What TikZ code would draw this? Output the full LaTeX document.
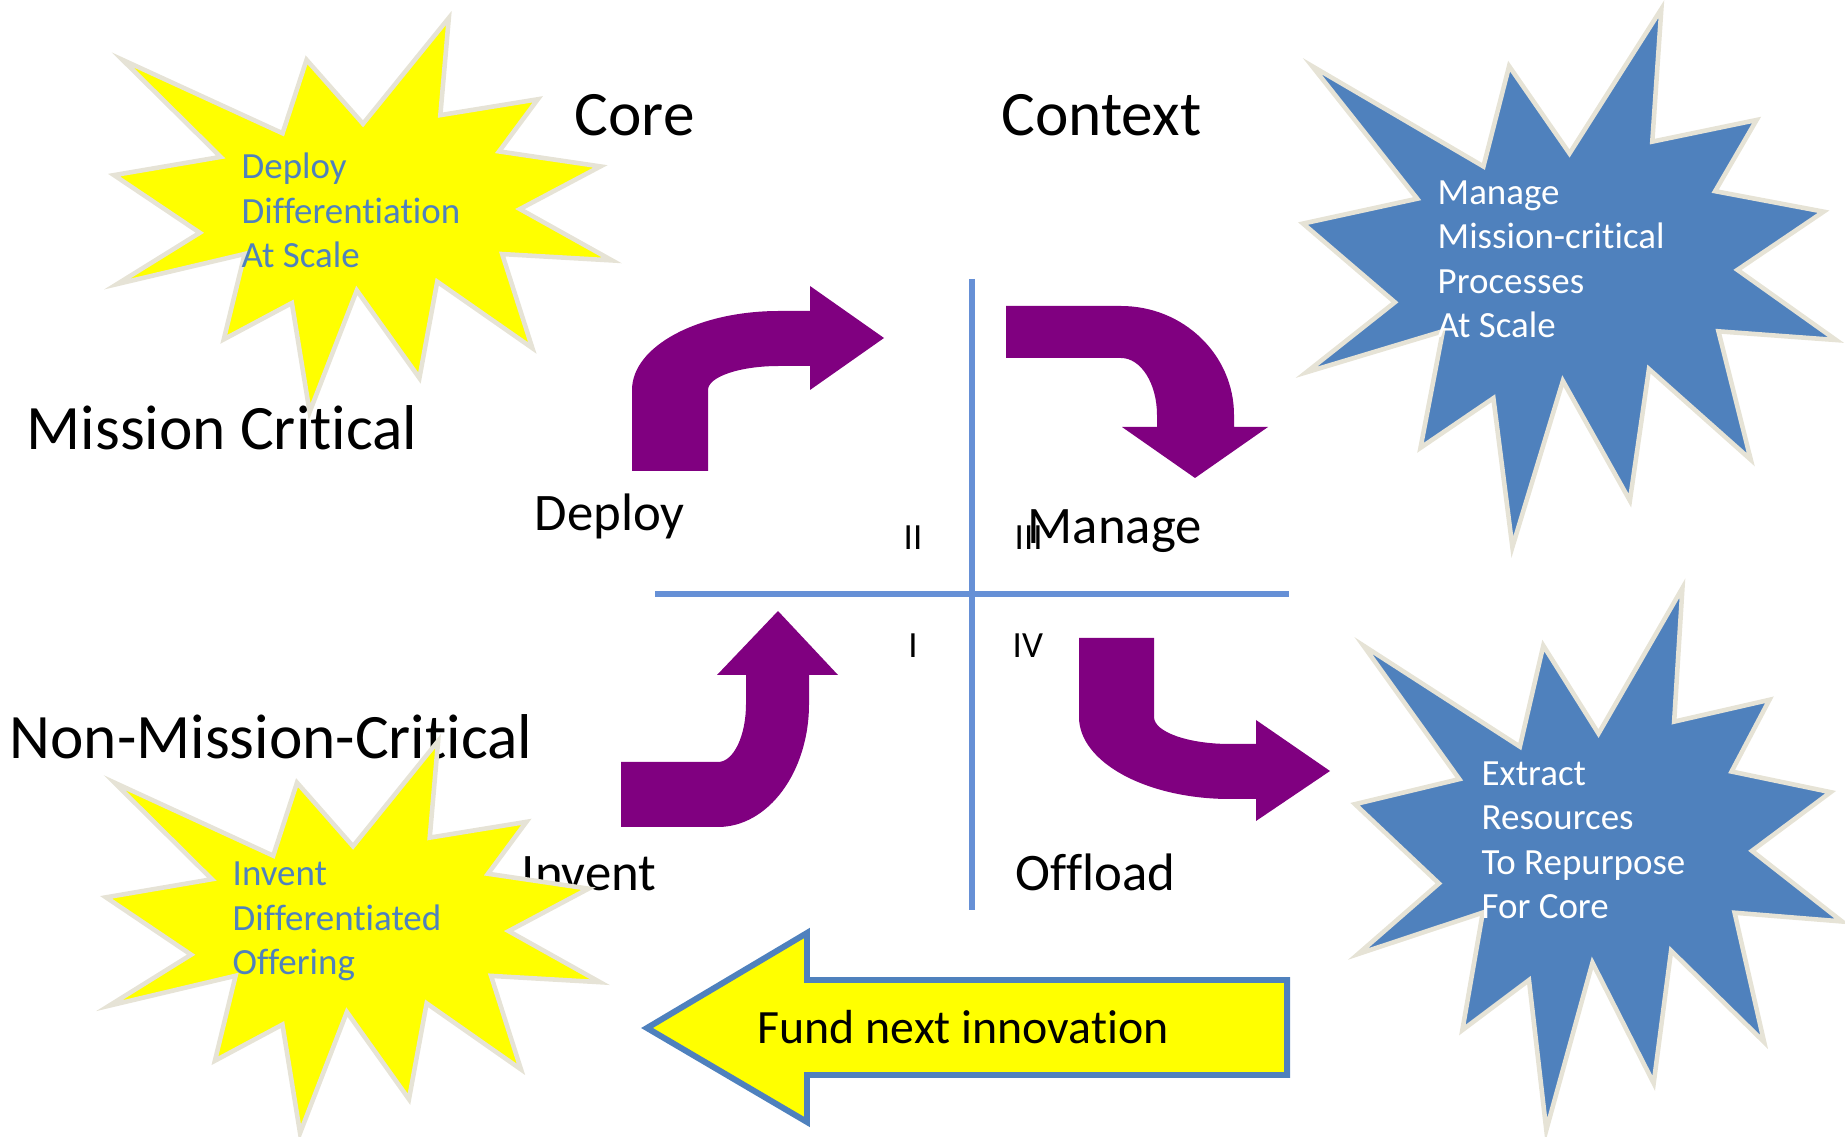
\documentclass[tikz,border=0pt]{standalone}
\usepackage{fontspec}
\setmainfont{Carlito}[Ligatures=NoCommon]

\definecolor{burstyellow}{HTML}{FFFF00}
\definecolor{burstblue}{HTML}{4F81BD}
\definecolor{burstedge}{HTML}{E6E3D6}
\definecolor{crossblue}{HTML}{6690D6}
\definecolor{bentpurple}{HTML}{800080}

% explosion outline in a 216 x 216 box
\newcommand{\blast}{(108,58) -- (145.22,0) -- (141.55,53.25) -- (183.80,44.57) -- (167.02,73.15) -- (210.97,81.37) -- (176.07,104.75) -- (216,132.90) -- (168.37,129.42) -- (181.45,180.95) -- (140.20,144.57) -- (132.47,197.37) -- (105.32,149.35) -- (84.85,216) -- (77.15,156.27) -- (47.62,176.17) -- (56.67,129.37) -- (1.35,145.87) -- (37.22,117.75) -- (0,86.15) -- (46.27,76.17) -- (3.70,22.95) -- (73.12,63.20) -- (83.52,22.95) -- cycle}

\begin{document}
\begin{tikzpicture}[x=0.01cm, y=-0.01cm]

\tikzstyle{yburst}=[fill=burstyellow, draw=burstedge, line width=1.3pt, line join=miter]
\tikzstyle{bburst}=[fill=burstblue, draw=burstedge, line width=1.3pt, line join=miter]
\tikzstyle{title}=[anchor=base west, inner sep=0pt, font=\fontsize{18}{22}\selectfont]
\tikzstyle{act}=[anchor=base west, inner sep=0pt, font=\fontsize{15}{18}\selectfont]
\tikzstyle{numeral}=[anchor=base, inner sep=0pt, font=\fontsize{10.5}{12.7}\selectfont]
\tikzstyle{bursttext}=[anchor=base west, inner sep=0pt, align=left, font=\fontsize{10.5}{12.7}\selectfont]
\tikzstyle{cross}=[draw=crossblue, line width=1.7pt]
\tikzstyle{bent}=[fill=bentpurple]

\useasboundingbox (0,0) rectangle (1845,1137);

\node (core) [title] at (574,136) {Core};
\node (context) [title] at (1001,136) {Context};
\node (mc) [title] at (26,450) {Mission Critical};
\node (nmc) [title] at (9,759) {Non-Mission-Critical};

\node (deploy) [act] at (534,531) {Deploy};
\node (manage) [act] at (1027,544) {Manage};
\node (invent) [act] at (521,891) {Invent};
\node (offload) [act] at (1015,891) {Offload};

% quadrants
\draw [cross] (972,279) -- (972,910);
\draw [cross] (655,594) -- (1289,594);
\node (q2) [numeral] at (913,550) {II};
\node (q3) [numeral, anchor=base west] at (1014,550) {III};
\node (q1) [numeral] at (913,658) {I};
\node (q4) [numeral, anchor=base west] at (1012,658) {IV};

% bent arrows
\fill [bent] (632,471) -- (632,390) arc[start angle=180, end angle=270, x radius=147, y radius=79]
  -- (810,311) -- (810,286) -- (884,338) -- (810,390) -- (810,366) -- (779,366)
  arc[start angle=270, end angle=180, x radius=71, y radius=24] -- (708,471) -- cycle;
\fill [bent] (1006,306) -- (1121,306) arc[start angle=270, end angle=360, x radius=113, y radius=109]
  -- (1234,427) -- (1268,427) -- (1195,478) -- (1122,427) -- (1157,427) -- (1157,415)
  arc[start angle=360, end angle=270, x radius=36, y radius=57] -- (1006,358) -- cycle;
\fill [bent] (621,827) -- (718,827) arc[start angle=90, end angle=0, x radius=91, y radius=123]
  -- (809,675) -- (838,675) -- (778,611) -- (717,675) -- (746,675) -- (746,704)
  arc[start angle=0, end angle=90, x radius=28, y radius=58] -- (621,762) -- cycle;
\fill [bent] (1079,638) -- (1079,717) arc[start angle=180, end angle=90, x radius=151, y radius=82]
  -- (1256,799) -- (1256,821) -- (1330,771) -- (1256,720) -- (1256,744) -- (1230,744)
  arc[start angle=90, end angle=180, x radius=76, y radius=27] -- (1154,638) -- cycle;

% fund arrow
\draw [fill=burstyellow, draw=burstblue, line width=1.7pt] (647,1028) -- (807,933) -- (807,980)
  -- (1287,980) -- (1287,1075) -- (807,1075) -- (807,1122) -- cycle;
\node (fund) [anchor=base west, inner sep=0pt, font=\fontsize{13.6}{16}\selectfont] at (757,1043) {Fund next innovation};

% explosions
\begin{scope}[shift={(114,18)}, xscale=498/216, yscale=394/216]
  \draw [yburst] \blast;
\end{scope}
\begin{scope}[shift={(1303,9)}, xscale=533/216, yscale=538/216]
  \draw [bburst] \blast;
\end{scope}
\begin{scope}[shift={(106,741)}, xscale=494/216, yscale=392/216]
  \draw [yburst] \blast;
\end{scope}
\begin{scope}[shift={(1355,588)}, xscale=487/216, yscale=542/216]
  \draw [bburst] \blast;
\end{scope}

\node (ta) [bursttext, text=burstblue] at (241,268) {Deploy\\Differentiation\\At Scale};
\node (tb) [bursttext, text=white] at (1437,338) {Manage\\Mission-critical\\Processes\\At Scale};
\node (tc) [bursttext, text=burstblue] at (232,975) {Invent\\Differentiated\\Offering};
\node (td) [bursttext, text=white] at (1481,919) {Extract\\Resources\\To Repurpose\\For Core};

\end{tikzpicture}
\end{document}
